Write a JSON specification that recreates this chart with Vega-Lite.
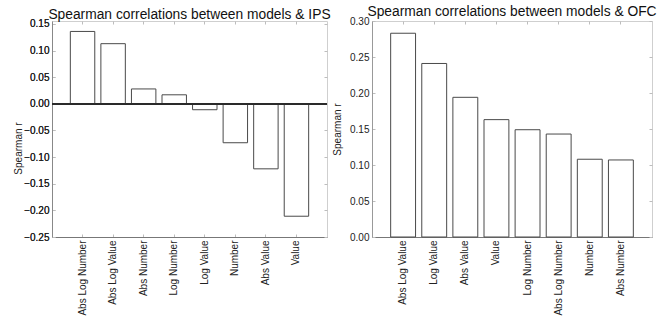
{
  "$schema": "https://vega.github.io/schema/vega-lite/v6.json",
  "padding": {"left": 13, "top": 4, "right": 2, "bottom": 2},
  "spacing": 0,
  "config": {
    "font": "Liberation Sans",
    "view": {"stroke": "#cfcfcf", "strokeWidth": 1},
    "title": {"font": "Liberation Sans", "fontSize": 13.8, "fontWeight": "normal", "color": "#111", "anchor": "middle", "frame": "group"},
    "axis": {
      "labelFont": "Liberation Sans",
      "labelFontSize": 10,
      "labelColor": "#222",
      "titleFont": "Liberation Sans",
      "titleFontSize": 10,
      "titleFontWeight": "normal",
      "titleColor": "#222",
      "grid": false,
      "tickColor": "#bdbdbd",
      "tickSize": -3,
      "labelPadding": 6
    }
  },
  "hconcat": [
    {
      "width": 275,
      "height": 216,
      "title": {"text": "Spearman correlations between models & IPS", "offset": -3},
      "data": {"values": [
        {"model": "Abs Log Number", "r": 0.136},
        {"model": "Abs Log Value", "r": 0.113},
        {"model": "Abs Number", "r": 0.028},
        {"model": "Log Number", "r": 0.017},
        {"model": "Log Value", "r": -0.011},
        {"model": "Number", "r": -0.073},
        {"model": "Abs Value", "r": -0.122},
        {"model": "Value", "r": -0.211}
      ]},
      "layer": [
        {
          "mark": {"type": "bar", "fill": "white", "stroke": "#4a4a4a", "strokeWidth": 1},
          "encoding": {
            "x": {"field": "model", "type": "nominal", "sort": null,
                  "scale": {"paddingInner": 0.2, "paddingOuter": 0.6},
                  "axis": {"title": null, "labelAngle": -90, "domainColor": "#777", "labelPadding": 6}},
            "y": {"field": "r", "type": "quantitative",
                  "scale": {"domain": [-0.25, 0.1556], "nice": false, "zero": false},
                  "axis": {"title": "Spearman r", "titleY": 127, "format": ".2f", "values": [-0.25, -0.2, -0.15, -0.1, -0.05, 0, 0.05, 0.1, 0.15], "domainColor": "#d0d0d0", "titlePadding": 0}}
          }
        },
        {
          "mark": {"type": "bar", "opacity": 0},
          "encoding": {
            "x": {"field": "model", "type": "nominal", "sort": null,
                  "axis": {"orient": "top", "title": null, "labels": false, "domain": false, "labelPadding": 0, "minExtent": 0, "maxExtent": 0}},
            "y": {"field": "r", "type": "quantitative",
                  "axis": {"orient": "right", "title": null, "labels": false, "domain": false, "labelPadding": 0, "minExtent": 0, "maxExtent": 0, "values": [-0.25, -0.2, -0.15, -0.1, -0.05, 0, 0.05, 0.1, 0.15]}}
          }
        },
        {
          "mark": {"type": "rule", "color": "#2a2a2a", "strokeWidth": 1.5},
          "encoding": {"y": {"datum": 0, "type": "quantitative"}}
        }
      ],
      "resolve": {"axis": {"x": "independent", "y": "independent"}}
    },
    {
      "width": 280,
      "height": 216,
      "title": {"text": "Spearman correlations between models & OFC", "offset": -3},
      "data": {"values": [
        {"model": "Abs Log Value", "r": 0.283},
        {"model": "Log Value", "r": 0.241},
        {"model": "Abs Value", "r": 0.194},
        {"model": "Value", "r": 0.163},
        {"model": "Log Number", "r": 0.149},
        {"model": "Abs Log Number", "r": 0.143},
        {"model": "Number", "r": 0.108},
        {"model": "Abs Number", "r": 0.107}
      ]},
      "layer": [
        {
          "mark": {"type": "bar", "fill": "white", "stroke": "#4a4a4a", "strokeWidth": 1},
          "encoding": {
            "x": {"field": "model", "type": "nominal", "sort": null,
                  "scale": {"paddingInner": 0.2, "paddingOuter": 0.6},
                  "axis": {"title": null, "labelAngle": -90, "domainColor": "#777", "labelPadding": 6}},
            "y": {"field": "r", "type": "quantitative",
                  "scale": {"domain": [0, 0.3], "nice": false},
                  "axis": {"title": "Spearman r", "format": ".2f", "values": [0, 0.05, 0.1, 0.15, 0.2, 0.25, 0.3], "domainColor": "#999", "titlePadding": 7}}
          }
        },
        {
          "mark": {"type": "bar", "opacity": 0},
          "encoding": {
            "x": {"field": "model", "type": "nominal", "sort": null,
                  "axis": {"orient": "top", "title": null, "labels": false, "domain": false, "labelPadding": 0, "minExtent": 0, "maxExtent": 0}},
            "y": {"field": "r", "type": "quantitative",
                  "axis": {"orient": "right", "title": null, "labels": false, "domain": false, "labelPadding": 0, "minExtent": 0, "maxExtent": 0, "values": [0, 0.05, 0.1, 0.15, 0.2, 0.25, 0.3]}}
          }
        }
      ],
      "resolve": {"axis": {"x": "independent", "y": "independent"}}
    }
  ]
}
